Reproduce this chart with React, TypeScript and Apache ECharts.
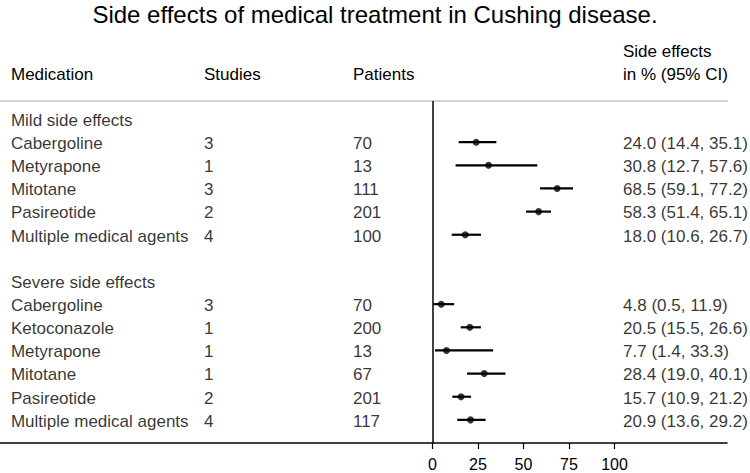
import React, { useEffect, useRef } from "react";
import * as echarts from "echarts";

const chartTitle = "Side effects of medical treatment in Cushing disease.";
const groupLabels = ["Mild side effects", "Severe side effects"];

const mildMeds = ["Cabergoline", "Metyrapone", "Mitotane", "Pasireotide", "Multiple medical agents"];
const mildStudies = [3, 1, 3, 2, 4];
const mildPatients = [70, 13, 111, 201, 100];
const mildEst = [24.0, 30.8, 68.5, 58.3, 18.0];
const mildLo = [14.4, 12.7, 59.1, 51.4, 10.6];
const mildHi = [35.1, 57.6, 77.2, 65.1, 26.7];

const severeMeds = ["Cabergoline", "Ketoconazole", "Metyrapone", "Mitotane", "Pasireotide", "Multiple medical agents"];
const severeStudies = [3, 1, 1, 1, 2, 4];
const severePatients = [70, 200, 13, 67, 201, 117];
const severeEst = [4.8, 20.5, 7.7, 28.4, 15.7, 20.9];
const severeLo = [0.5, 15.5, 1.4, 19.0, 10.9, 13.6];
const severeHi = [11.9, 26.6, 33.3, 40.1, 21.2, 29.2];

const xTicks = [0, 25, 50, 75, 100];
const headerCols = ["Medication", "Studies", "Patients"];
const headerRight = ["Side effects", "in % (95% CI)"];

const FONT = "'Liberation Sans', Arial, Helvetica, sans-serif";

// layout constants (data units of x-axis for text columns)
const X_MIN = -237.6;
const X_MAX = 161.8;
const COL_MED = -231.6;
const COL_STUDIES = -125.5;
const COL_PATIENTS = -43.7;
const COL_RIGHT = 104.7;
const TEXT_SHIFT = 0.06;

type Row = { row: number; label: string; studies?: number; patients?: number; est?: number; lo?: number; hi?: number };

function buildRows(): Row[] {
  const rows: Row[] = [];
  let r = 0;
  rows.push({ row: r++, label: groupLabels[0] });
  mildMeds.forEach((m, i) =>
    rows.push({ row: r++, label: m, studies: mildStudies[i], patients: mildPatients[i], est: mildEst[i], lo: mildLo[i], hi: mildHi[i] })
  );
  r++; // blank row
  rows.push({ row: r++, label: groupLabels[1] });
  severeMeds.forEach((m, i) =>
    rows.push({ row: r++, label: m, studies: severeStudies[i], patients: severePatients[i], est: severeEst[i], lo: severeLo[i], hi: severeHi[i] })
  );
  return rows;
}

export default function App() {
  const ref = useRef<HTMLDivElement>(null);
  useEffect(() => {
    if (!ref.current) return;
    const chart = echarts.init(ref.current, undefined, { renderer: "svg" });
    const rows = buildRows();
    const dataRows = rows.filter((r) => r.est !== undefined);
    const fmt = (v: number) => v.toFixed(1);

    const textSeries = (data: any[]) => ({
      type: "scatter",
      symbolSize: 0,
      silent: true,
      clip: false,
      data,
      label: {
        show: true,
        position: "right",
        distance: 0,
        color: "#000",
        fontSize: 17,
        fontFamily: FONT,
        formatter: (p: any) => p.data[2],
      },
    });

    chart.setOption({
      animation: false,
      backgroundColor: "#fff",
      title: {
        text: chartTitle,
        left: "center",
        top: -3,
        textStyle: { fontSize: 24, fontWeight: "normal", color: "#000", fontFamily: FONT },
      },
      grid: { left: 0, right: 23, top: 101, bottom: 30, outerBoundsMode: "none" },
      xAxis: {
        type: "value",
        min: X_MIN,
        max: X_MAX,
        axisLine: { show: true, onZero: false, lineStyle: { color: "#000", width: 1.5 } },
        axisTick: { show: true, customValues: xTicks, length: 6, lineStyle: { color: "#000", width: 1.2 } },
        axisLabel: { show: true, customValues: xTicks, color: "#000", fontSize: 16, fontFamily: FONT, margin: 13 },
        splitLine: { show: false },
      },
      yAxis: {
        type: "value",
        inverse: true,
        min: -0.78,
        max: 14,
        show: false,
        splitLine: { show: false },
      },
      graphic: [
        {
          type: "line",
          shape: { x1: 0, y1: 101, x2: 728, y2: 101 },
          style: { stroke: "#c4c4c4", lineWidth: 1.5 },
        },
        { type: "text", x: 11, y: 74, style: { text: headerCols[0], fontSize: 17, fontFamily: FONT, fill: "#000", verticalAlign: "middle" } },
        { type: "text", x: 204, y: 74, style: { text: headerCols[1], fontSize: 17, fontFamily: FONT, fill: "#000", verticalAlign: "middle" } },
        { type: "text", x: 353, y: 74, style: { text: headerCols[2], fontSize: 17, fontFamily: FONT, fill: "#000", verticalAlign: "middle" } },
        { type: "text", x: 623, y: 51, style: { text: headerRight[0], fontSize: 17, fontFamily: FONT, fill: "#000", verticalAlign: "middle" } },
        { type: "text", x: 623, y: 74, style: { text: headerRight[1], fontSize: 17, fontFamily: FONT, fill: "#000", verticalAlign: "middle" } },
      ],
      series: [
        {
          type: "custom",
          silent: true,
          data: dataRows.map((r) => [r.lo, r.hi, r.row]),
          renderItem: (params: any, api: any) => {
            const a = api.coord([api.value(0), api.value(2)]);
            const b = api.coord([api.value(1), api.value(2)]);
            return {
              type: "line",
              shape: { x1: a[0], y1: a[1], x2: b[0], y2: b[1] },
              style: { stroke: "#000", lineWidth: 2.2 },
            };
          },
          markLine: {
            silent: true,
            symbol: "none",
            label: { show: false },
            lineStyle: { color: "#000", width: 1.5, type: "solid" },
            data: [{ xAxis: 0 }],
          },
        },
        {
          type: "scatter",
          silent: true,
          symbol: "circle",
          symbolSize: 7,
          itemStyle: { color: "#000" },
          data: dataRows.map((r) => [r.est, r.row]),
        },
        textSeries(rows.map((r) => [COL_MED, r.row + TEXT_SHIFT, r.label])),
        textSeries(dataRows.map((r) => [COL_STUDIES, r.row + TEXT_SHIFT, String(r.studies)])),
        textSeries(dataRows.map((r) => [COL_PATIENTS, r.row + TEXT_SHIFT, String(r.patients)])),
        textSeries(
          dataRows.map((r) => [COL_RIGHT, r.row + TEXT_SHIFT, `${fmt(r.est!)} (${fmt(r.lo!)}, ${fmt(r.hi!)})`])
        ),
      ],
    });
    return () => chart.dispose();
  }, []);

  return (
    <div
      ref={ref}
      style={{ position: "absolute", left: 0, top: 0, width: 750, height: 473 }}
    />
  );
}
